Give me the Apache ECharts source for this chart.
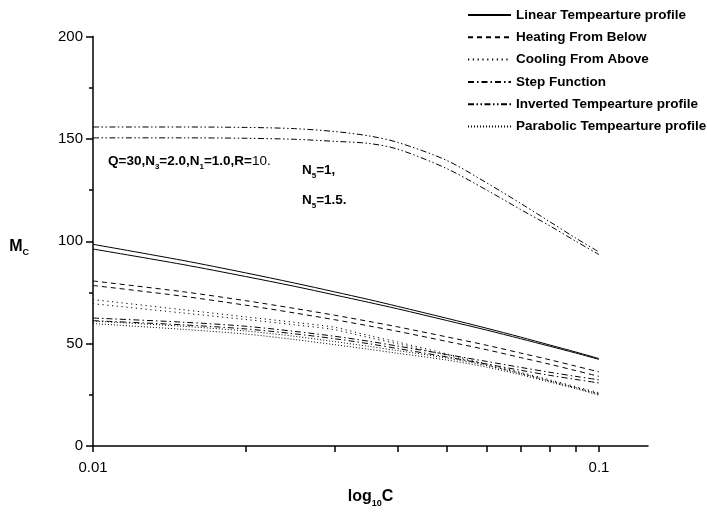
<!DOCTYPE html>
<html>
<head>
<meta charset="utf-8">
<script src="https://cdn.jsdelivr.net/npm/echarts@6/dist/echarts.min.js"></script>
<style>
  html, body { margin: 0; padding: 0; background: #fff; }
  #chart { width: 707px; height: 513px; }
</style>
</head>
<body>
<div id="chart"></div>
<script>
// Concentration C (log scale) at which M_C was computed
const cValues = [0.01, 0.015, 0.02, 0.025, 0.03, 0.035, 0.04, 0.05, 0.06, 0.07, 0.08, 0.09, 0.1];

// M_C for each temperature profile, N5 = 1 and N5 = 1.5
const linearN1 = [98.5, 90.7, 84.6, 79.6, 75.3, 71.6, 68.2, 62.4, 57.5, 53.2, 49.3, 45.9, 42.7];
const linearN2 = [96.2, 88.7, 82.8, 78.0, 73.8, 70.2, 67.0, 61.3, 56.6, 52.4, 48.7, 45.4, 42.3];

const heatingN1 = [80.6, 75.4, 71.0, 67.2, 63.9, 60.9, 58.2, 53.3, 49.2, 45.4, 42.1, 39.0, 36.2];
const heatingN2 = [78.4, 73.2, 68.8, 65.0, 61.7, 58.7, 56.0, 51.1, 47.0, 43.2, 39.9, 36.8, 34.0];

const coolingN1 = [71.5, 66.6, 63.1, 60.4, 58.0, 54.0, 50.8, 45.0, 40.1, 36.0, 32.3, 29.0, 26.0];
const coolingN2 = [69.5, 65.0, 61.8, 59.2, 56.8, 53.0, 49.9, 44.3, 39.5, 35.4, 31.7, 28.4, 25.3];

const stepN1 = [62.5, 60.5, 58.5, 56.0, 53.6, 51.2, 48.8, 44.7, 41.3, 38.4, 36.0, 34.0, 32.3];
const stepN2 = [61.2, 59.2, 57.2, 54.8, 52.4, 50.0, 47.6, 43.5, 40.0, 37.0, 34.5, 32.5, 30.8];

const invertedN1 = [155.8, 155.8, 155.6, 155.0, 153.6, 151.5, 148.3, 139.5, 128.5, 118.5, 109.5, 101.5, 94.8];
const invertedN2 = [150.5, 150.5, 150.3, 149.8, 148.8, 147.8, 145.0, 135.5, 125.0, 115.5, 107.5, 100.0, 93.5];

const parabolicN1 = [61.0, 58.5, 56.2, 53.6, 51.0, 48.7, 46.6, 43.0, 39.3, 35.5, 31.8, 28.5, 25.4];
const parabolicN2 = [59.8, 57.0, 54.7, 52.0, 49.5, 47.3, 45.3, 42.0, 38.5, 34.8, 31.2, 28.0, 24.8];

// Axis ticks
const xTickValues = [0.01, 0.02, 0.03, 0.04, 0.05, 0.06, 0.07, 0.08, 0.09, 0.1];
const xLabelValues = [0.01, 0.1];
const yTickLabels = [0, 50, 100, 150, 200];

const profileNames = [
  'Linear Tempearture profile',
  'Heating From Below',
  'Cooling From Above',
  'Step Function',
  'Inverted Tempearture profile',
  'Parabolic Tempearture profile'
];

const profiles = [
  { name: profileNames[0], dash: 'solid', curves: [linearN1, linearN2] },
  { name: profileNames[1], dash: [5, 4], curves: [heatingN1, heatingN2] },
  { name: profileNames[2], dash: [1.2, 3.6], curves: [coolingN1, coolingN2] },
  { name: profileNames[3], dash: [6, 3, 1.5, 3], curves: [stepN1, stepN2] },
  { name: profileNames[4], dash: [6, 2.5, 1.5, 2.5, 1.5, 2.5], curves: [invertedN1, invertedN2] },
  { name: profileNames[5], dash: [1, 2], curves: [parabolicN1, parabolicN2] }
];

const FONT = 'Liberation Sans, Arial, sans-serif';

const series = [];
profiles.forEach(p => {
  p.curves.forEach(vals => {
    series.push({
      name: p.name,
      type: 'line',
      data: cValues.map((c, i) => [c, vals[i]]),
      showSymbol: false,
      symbol: 'none',
      smooth: 0.3,
      silent: true,
      lineStyle: { color: '#000', width: 1, type: p.dash },
      itemStyle: { color: '#000' }
    });
  });
});

const chart = echarts.init(document.getElementById('chart'), null, { renderer: 'canvas' });

const subRich = {
  b: { fontFamily: FONT, fontWeight: 'bold', fontSize: 13.5, color: '#000', lineHeight: 20 },
  r: { fontFamily: FONT, fontWeight: 'normal', fontSize: 13.5, color: '#000', lineHeight: 20 },
  s: { fontFamily: FONT, fontWeight: 'bold', fontSize: 8, color: '#000', lineHeight: 8, verticalAlign: 'bottom' }
};

chart.setOption({
  animation: false,
  backgroundColor: '#fff',
  grid: { left: 93, top: 36.5, right: 59, bottom: 64, containLabel: false },
  legend: {
    orient: 'vertical',
    left: 467,
    top: 8,
    padding: 0,
    itemWidth: 43,
    itemHeight: 14,
    itemGap: 8.3,
    data: profileNames,
    selectedMode: false,
    itemStyle: { opacity: 0 },
    textStyle: { fontFamily: FONT, fontWeight: 'bold', fontSize: 13.5, color: '#000' }
  },
  xAxis: {
    type: 'log',
    logBase: 10,
    min: 0.01,
    max: 0.125,
    name: '{b|log}{s|10}{b|C}',
    nameLocation: 'middle',
    nameGap: 40,
    nameTextStyle: {
      rich: {
        b: { fontFamily: FONT, fontWeight: 'bold', fontSize: 16, color: '#000', lineHeight: 22 },
        s: { fontFamily: FONT, fontWeight: 'bold', fontSize: 9, color: '#000', lineHeight: 9, verticalAlign: 'bottom' }
      }
    },
    axisLine: { show: true, onZero: false, lineStyle: { color: '#000', width: 1.5 } },
    axisTick: { show: true, length: 6, lineStyle: { color: '#000', width: 1.5 }, customValues: xTickValues },
    axisLabel: {
      fontFamily: FONT, fontSize: 15, color: '#000', margin: 14,
      customValues: xLabelValues,
      formatter: v => String(v)
    },
    minorTick: { show: false },
    splitLine: { show: false }
  },
  yAxis: {
    type: 'value',
    min: 0,
    max: 200,
    interval: 50,
    name: '{b|M}{s|C}',
    nameLocation: 'middle',
    nameRotate: 0,
    nameGap: 64,
    nameTextStyle: {
      padding: [10, 0, 0, 0],
      rich: {
        b: { fontFamily: FONT, fontWeight: 'bold', fontSize: 16, color: '#000', lineHeight: 22 },
        s: { fontFamily: FONT, fontWeight: 'bold', fontSize: 9, color: '#000', lineHeight: 9, verticalAlign: 'bottom' }
      }
    },
    axisLine: { show: true, onZero: false, lineStyle: { color: '#000', width: 1.5 } },
    axisTick: { show: true, length: 7, lineStyle: { color: '#000', width: 1.5 } },
    minorTick: { show: true, splitNumber: 2, length: 4, lineStyle: { color: '#000', width: 1.5 } },
    axisLabel: {
      fontFamily: FONT, fontSize: 15, color: '#000', margin: 10,
      formatter: v => (yTickLabels.indexOf(v) >= 0 ? String(v) : '')
    },
    splitLine: { show: false },
    minorSplitLine: { show: false }
  },
  graphic: [
    {
      type: 'text', left: 108, top: 154, silent: true,
      style: {
        text: '{b|Q=30,N}{s|3}{b|=2.0,N}{s|1}{b|=1.0,R=}{r|10.}',
        rich: subRich
      }
    },
    {
      type: 'text', left: 302, top: 163, silent: true,
      style: { text: '{b|N}{s|5}{b|=1,}', rich: subRich }
    },
    {
      type: 'text', left: 302, top: 193, silent: true,
      style: { text: '{b|N}{s|5}{b|=1.5.}', rich: subRich }
    }
  ],
  series: series
});
</script>
</body>
</html>
